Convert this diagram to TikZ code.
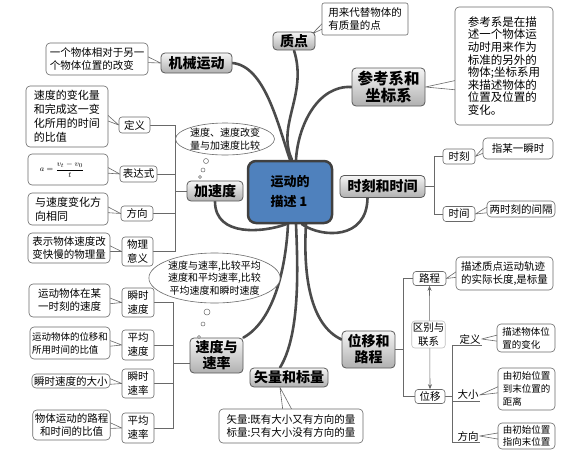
\documentclass[tikz,border=0pt]{standalone}
\usepackage{fontspec}
\setmainfont{Noto Sans CJK SC}
\usetikzlibrary{shapes.geometric,calc,backgrounds,arrows.meta}
\definecolor{cblue}{RGB}{79,129,189}
\definecolor{cline}{RGB}{75,75,75}
\definecolor{lbord}{RGB}{105,105,105}
\tikzset{
 topic/.style={draw=black!65, line width=0.8pt, rounded corners=4pt, top color=gray!8, bottom color=gray!62, font=\fontsize{14}{16}\selectfont\bfseries, align=center, inner sep=1pt},
 hub/.style={draw=black!75, line width=2.5pt, rounded corners=8pt, fill=cblue, font=\fontsize{13}{20}\selectfont\bfseries, align=left, inner sep=2pt},
 leaf/.style={draw=lbord, line width=0.6pt, rounded corners=4pt, fill=white, font=\fontsize{10.5}{13}\selectfont, align=left, inner sep=2pt},
 sbox/.style={draw=lbord, line width=0.6pt, rounded corners=3pt, fill=white, font=\fontsize{10.5}{14}\selectfont, align=center, inner sep=1pt},
 bubble/.style={ellipse, draw=lbord, line width=0.6pt, fill=white, font=\fontsize{10}{12.5}\selectfont, align=center, inner sep=0pt},
 bdot/.style={circle, draw=lbord, line width=0.5pt, fill=white, inner sep=0pt},
 branch/.style={draw=cline, line width=2.6pt, line cap=round},
 br/.style={draw=lbord, line width=0.6pt},
 tailst/.style={draw=lbord, line width=0.6pt, fill=white, line join=round},
 plainlbl/.style={font=\fontsize{10.5}{13}\selectfont, inner sep=1pt},
 sz/.style 2 args={minimum width=#1pt, minimum height=#2pt},
}
\newcommand{\tailE}[2]{\filldraw[tailst] ($(#1.east)+(-3,-3.5)$) -- (#2) -- ($(#1.east)+(-3,3.5)$) -- cycle;}
\newcommand{\tailW}[2]{\filldraw[tailst] ($(#1.west)+(3,-3.5)$) -- (#2) -- ($(#1.west)+(3,3.5)$) -- cycle;}
\begin{document}
\begin{tikzpicture}[x=1pt,y=-1pt]
\useasboundingbox (0,0) rectangle (563,464);

% hub
\node[hub, sz={84}{62}] (c) at (290,192) {运动的\\描述 1};

% topics
\node[topic, sz={71}{20}] (jx) at (196.5,63) {机械运动};
\node[topic, sz={42}{18}] (zd) at (294,41) {质点};
\node[topic, sz={73}{38}, font=\fontsize{15.5}{17.5}\selectfont\bfseries] (ck) at (388.5,87) {参考系和\\坐标系};
\node[topic, sz={85}{22}] (sk) at (382.5,186.5) {时刻和时间};
\node[topic, sz={56}{20}] (js) at (215,191) {加速度};
\node[topic, sz={53}{35}] (sd) at (216.5,355.5) {速度与\\速率};
\node[topic, sz={78}{19}] (sl) at (289,377.5) {矢量和标量};
\node[topic, sz={53}{37}] (wl) at (368.5,349.5) {位移和\\路程};

% leaves near top
\node[leaf, sz={102}{32}] (l1) at (97,59) {一个物体相对于另一\\个物体位置的改变};
\node[leaf, sz={86}{32}, rounded corners=2pt] (l2) at (365,19) {用来代替物体的\\有质量的点};
\node[leaf, sz={98}{118}, font=\fontsize{11.5}{12.6}\selectfont] (l3) at (504,66) {参考系是在描\\述一个物体运\\动时用来作为\\标准的另外的\\物体;坐标系用\\来描述物体的\\位置及位置的\\变化。};

% time
\node[sbox, sz={32}{15}] (tk) at (459,156.5) {时刻};
\node[sbox, sz={32}{15}] (tj) at (459,214) {时间};
\node[leaf, sz={70}{21}, align=center] (tk1) at (518,148.5) {指某一瞬时};
\node[leaf, sz={68}{16}, align=center] (tj1) at (521,209) {两时刻的间隔};

% acceleration
\node[sbox, sz={31}{16}] (a1) at (134.5,125) {定义};
\node[sbox, sz={37}{16}] (a2) at (138.5,174) {表达式};
\node[sbox, sz={32}{15}] (a3) at (137,213.5) {方向};
\node[sbox, sz={31}{29}] (a4) at (137.5,251.5) {物理\\意义};
\node[leaf, sz={82}{61}, font=\fontsize{11}{14}\selectfont] (a1l) at (67,116.5) {速度的变化量\\和完成这一变\\化所用的时间\\的比值};
\node[leaf, sz={80}{31}, align=center] (a2l) at (68,169.5) {\fontsize{8}{9}\selectfont $a=\displaystyle\frac{v_t-v_0}{t}$\hspace{12pt}};
\node[leaf, sz={80}{32}, font=\fontsize{11}{14}\selectfont] (a3l) at (68,209) {与速度变化方\\向相同};
\node[leaf, sz={82}{30}] (a4l) at (69,248) {表示物体速度改\\变快慢的物理量};

% velocity
\node[sbox, sz={32}{29}] (v1) at (138,302.5) {瞬时\\速度};
\node[sbox, sz={32}{30}] (v2) at (138,345) {平均\\速度};
\node[sbox, sz={32}{29}] (v3) at (138,383.5) {瞬时\\速率};
\node[sbox, sz={32}{30}] (v4) at (138,428) {平均\\速率};
\node[leaf, sz={81}{33}] (v1l) at (69.5,300.5) {运动物体在某\\一时刻的速度};
\node[leaf, sz={80}{32}, font=\fontsize{9.5}{13}\selectfont] (v2l) at (70,343) {运动物体的位移和\\所用时间的比值};
\node[leaf, sz={78}{14}] (v3l) at (71,381) {瞬时速度的大小};
\node[leaf, sz={77}{30}, align=center] (v4l) at (71.5,425) {物体运动的路程\\和时间的比值};

% vector / scalar
\node[leaf, sz={144}{34}] (sll) at (291,426) {矢量:既有大小又有方向的量\\标量:只有大小没有方向的量};

% displacement / path
\node[sbox, sz={33}{14}] (lc) at (429.5,278.5) {路程};
\node[sbox, sz={33}{27}, draw=gray!50] (qb) at (428.5,334.5) {区别与\\联系};
\node[sbox, sz={30}{14}] (wy) at (430,396.5) {位移};
\node[leaf, sz={97}{33}] (lcl) at (504.5,273.5) {描述质点运动轨迹\\的实际长度,是标量};
\node[plainlbl] (d1) at (470,339) {定义};
\node[plainlbl] (d2) at (468,395) {大小};
\node[plainlbl] (d3) at (468,436) {方向};
\node[leaf, sz={58}{28}, font=\fontsize{9.5}{13}\selectfont] (d1l) at (526,338) {描述物体位\\置的变化};
\node[leaf, sz={57}{42}, font=\fontsize{9.5}{13}\selectfont] (d2l) at (526.5,389) {由初始位置\\到末位置的\\距离};
\node[leaf, sz={57}{26}, font=\fontsize{9.5}{12}\selectfont] (d3l) at (526.5,436) {由初始位置\\指向末位置};

% thought bubbles
\node[bubble, sz={96}{32}] (e1) at (225,139) {速度、速度改变\\量与加速度比较};
\node[bdot, minimum size=5pt] (e1a) at (206,161) {};
\node[bdot, minimum size=4pt] (e1b) at (203,170) {};
\node[bdot, minimum size=3pt] (e1c) at (200,177) {};
\node[bubble, sz={126}{50}] (e2) at (214.5,278) {速度与速率,比较平均\\速度和平均速率,比较\\平均速度和瞬时速度};
\node[bdot, minimum size=6pt] (e2a) at (207,312) {};
\node[bdot, minimum size=4pt] (e2b) at (203,324) {};
\node[bdot, minimum size=3pt] (e2c) at (199,337) {};

% junction coordinates
\coordinate (xa) at (175,0);
\coordinate (xv) at (173,0);
\coordinate (xt) at (434,0);
\coordinate (xw) at (403,0);
\coordinate (xd) at (452,0);

\begin{pgfonlayer}{background}
% main branches
\draw[branch] (jx.east) .. controls (265,66) and (278,125) .. (c.north);
\draw[branch] (zd.south) .. controls (308,95) and (276,125) .. ([xshift=2pt]c.north);
\draw[branch] (ck.west) .. controls (318,85) and (298,125) .. ([xshift=6pt]c.north);
\draw[branch] ([xshift=-15pt]sk.south) .. controls (367,240) and (322,238) .. ([xshift=12pt]c.south);
\draw[branch] (js.south) .. controls (215,238) and (265,232) .. ([xshift=-4pt]c.south);
\draw[branch] (sd.north east) .. controls (275,320) and (286,265) .. ([xshift=-2pt]c.south);
\draw[branch] ([xshift=-9pt]sl.north) .. controls (300,335) and (298,270) .. ([xshift=6pt]c.south);
\draw[branch] ([yshift=10pt]wl.west) .. controls (310,325) and (303,275) .. ([xshift=16pt]c.south);

% brackets: acceleration
\draw[br] (a1.east) -- (a1.east -| xa) -- (a4.east -| xa) -- (a4.east);
\draw[br] (a2.east) -- (a2.east -| xa);
\draw[br] (a3.east) -- (a3.east -| xa);
\draw[br] (js.west -| xa) -- (js.west);
% velocity
\draw[br] (v1.east) -- (v1.east -| xv) -- (v4.east -| xv) -- (v4.east);
\draw[br] (v2.east) -- (v2.east -| xv);
\draw[br] (v3.east) -- (v3.east -| xv);
\draw[br] ([yshift=-8pt]sd.west -| xv) -- ([yshift=-8pt]sd.west);
% time
\draw[br] (sk.east) -- (sk.east -| xt);
\draw[br] (tk.west) -- (tk.west -| xt) -- (tj.west -| xt) -- (tj.west);
% displacement
\draw[br] (wl.east) -- (wl.east -| xw);
\draw[br] (lc.west) -- (lc.west -| xw) -- (wy.west -| xw) -- (wy.west);
\draw[br, {Stealth[length=5pt,width=4pt]}-{Stealth[length=5pt,width=4pt]}] (lc.south) -- (wy.north);
\draw[br] (wy.east) -- (wy.east -| xd);
\draw[br] (d1.south west -| xd) -- (d3.south west -| xd);
\draw[br] (d1.south west -| xd) -- (d1.south east);
\draw[br] (d2.south west -| xd) -- (d2.south east);
\draw[br] (d3.south west -| xd) -- (d3.south east);

% callout tails
\tailE{l1}{jx.west}
\filldraw[tailst] ($(l2.west)+(3,2)$) -- ([xshift=-3pt,yshift=-2pt]zd.north east) -- ($(l2.west)+(3,9)$) -- cycle;
\filldraw[tailst] ($(l3.west)+(3,14)$) -- (ck.east) -- ($(l3.west)+(3,24)$) -- cycle;
\tailW{tk1}{tk.east}
\tailW{tj1}{tj.east}
\tailE{a1l}{a1.west}
\tailE{a2l}{a2.west}
\tailE{a3l}{a3.west}
\tailE{a4l}{a4.west}
\tailE{v1l}{v1.west}
\tailE{v2l}{v2.west}
\tailE{v3l}{v3.west}
\tailE{v4l}{v4.west}
\filldraw[tailst] ($(sll.north)+(-8,3)$) -- ([xshift=-9pt]sl.south) -- ($(sll.north)+(2,3)$) -- cycle;
\tailW{lcl}{lc.east}
\tailW{d1l}{d1.east}
\tailW{d2l}{d2.east}
\tailW{d3l}{d3.east}
\end{pgfonlayer}
\end{tikzpicture}
\end{document}
